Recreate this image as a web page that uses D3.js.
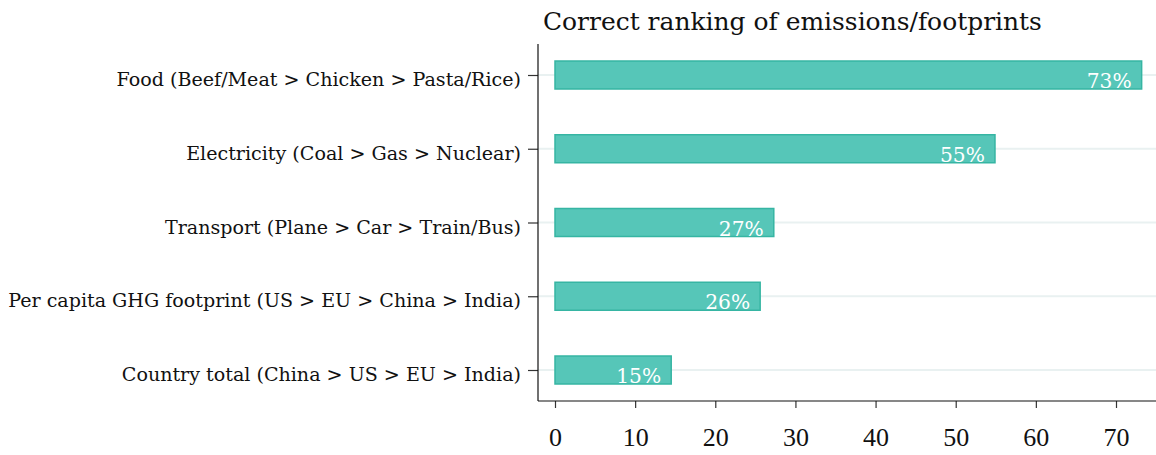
<!DOCTYPE html>
<html><head><meta charset="utf-8">
<script src="https://cdn.jsdelivr.net/npm/d3@7"></script>
<style>body{margin:0;background:#fff}svg{display:block}</style>
</head><body><svg id="c" width="1156" height="455"></svg>
<script>
const categories = [
  "Food (Beef/Meat > Chicken > Pasta/Rice)",
  "Electricity (Coal > Gas > Nuclear)",
  "Transport (Plane > Car > Train/Bus)",
  "Per capita GHG footprint (US > EU > China > India)",
  "Country total (China > US > EU > India)"
];
const values = [73.2, 54.9, 27.3, 25.6, 14.5];
const xTicks = [0, 10, 20, 30, 40, 50, 60, 70];
const title = "Correct ranking of emissions/footprints";

const FONT = '"DejaVu Serif",serif';
const TICKFONT = '"Liberation Serif",serif';
const svg = d3.select("#c").style("font-family", FONT);
const x = d3.scaleLinear().domain([0, 70]).range([555, 1116]);
const y = d3.scalePoint().domain(categories).range([75, 370]);
const spineX = 538, bottomY = 401, topY = 44;
const barH = 28;

function fitSize(txt, target, font) {
  const t = svg.append("text").attr("font-size", 20).style("font-family", font || FONT).text(txt);
  const w = t.node().getComputedTextLength();
  t.remove();
  return 20 * target / w;
}
const labelSize = fitSize(categories[3], 513);
const titleSize = fitSize(title, 499);
const valSize = fitSize("73%", 45);

// gridlines
svg.append("g").selectAll("line").data(categories).join("line")
  .attr("x1", spineX).attr("x2", 1156)
  .attr("y1", d => y(d)).attr("y2", d => y(d))
  .attr("stroke", "#e9f1f1").attr("stroke-width", 2);

// bars
svg.append("g").selectAll("rect").data(categories).join("rect")
  .attr("x", x(0)).attr("y", d => y(d) - barH / 2)
  .attr("width", (d, i) => x(values[i]) - x(0)).attr("height", barH)
  .attr("fill", "#56c6b8").attr("stroke", "#36b5a3").attr("stroke-width", 1.5);

// value labels
svg.append("g").selectAll("text").data(categories).join("text")
  .attr("x", (d, i) => x(values[i]) - 10).attr("y", d => y(d) + barH / 2 - 1)
  .attr("text-anchor", "end").attr("fill", "#ffffff").attr("font-size", valSize)
  .style("font-family", FONT)
  .text((d, i) => Math.round(values[i]) + "%");

// y axis
const yAxis = d3.axisLeft(y).tickSize(10).tickPadding(7);
const gy = svg.append("g").attr("transform", `translate(${spineX},0)`).call(yAxis);
gy.select(".domain").remove();
gy.selectAll(".tick line").attr("stroke", "#333").attr("stroke-width", 1.2);
gy.selectAll(".tick text").attr("font-size", labelSize).attr("fill", "#111").attr("dy", "0.55em")
  .style("font-family", FONT);
svg.append("line").attr("x1", spineX).attr("x2", spineX).attr("y1", topY).attr("y2", bottomY)
  .attr("stroke", "#111").attr("stroke-width", 1.2);

// x axis
const xAxis = d3.axisBottom(x).tickValues(xTicks).tickSize(7).tickPadding(20);
const gx = svg.append("g").attr("transform", `translate(0,${bottomY})`).call(xAxis);
gx.select(".domain").remove();
gx.selectAll(".tick line").attr("stroke", "#333").attr("stroke-width", 1.2);
gx.selectAll(".tick text").attr("font-size", 26).attr("fill", "#111")
  .style("font-family", TICKFONT);
svg.append("line").attr("x1", spineX).attr("x2", 1156).attr("y1", bottomY).attr("y2", bottomY)
  .attr("stroke", "#111").attr("stroke-width", 1.2);

// title
svg.append("text").attr("x", 543).attr("y", 30).attr("font-size", titleSize).attr("fill", "#111")
  .style("font-family", FONT).text(title);
</script></body></html>
